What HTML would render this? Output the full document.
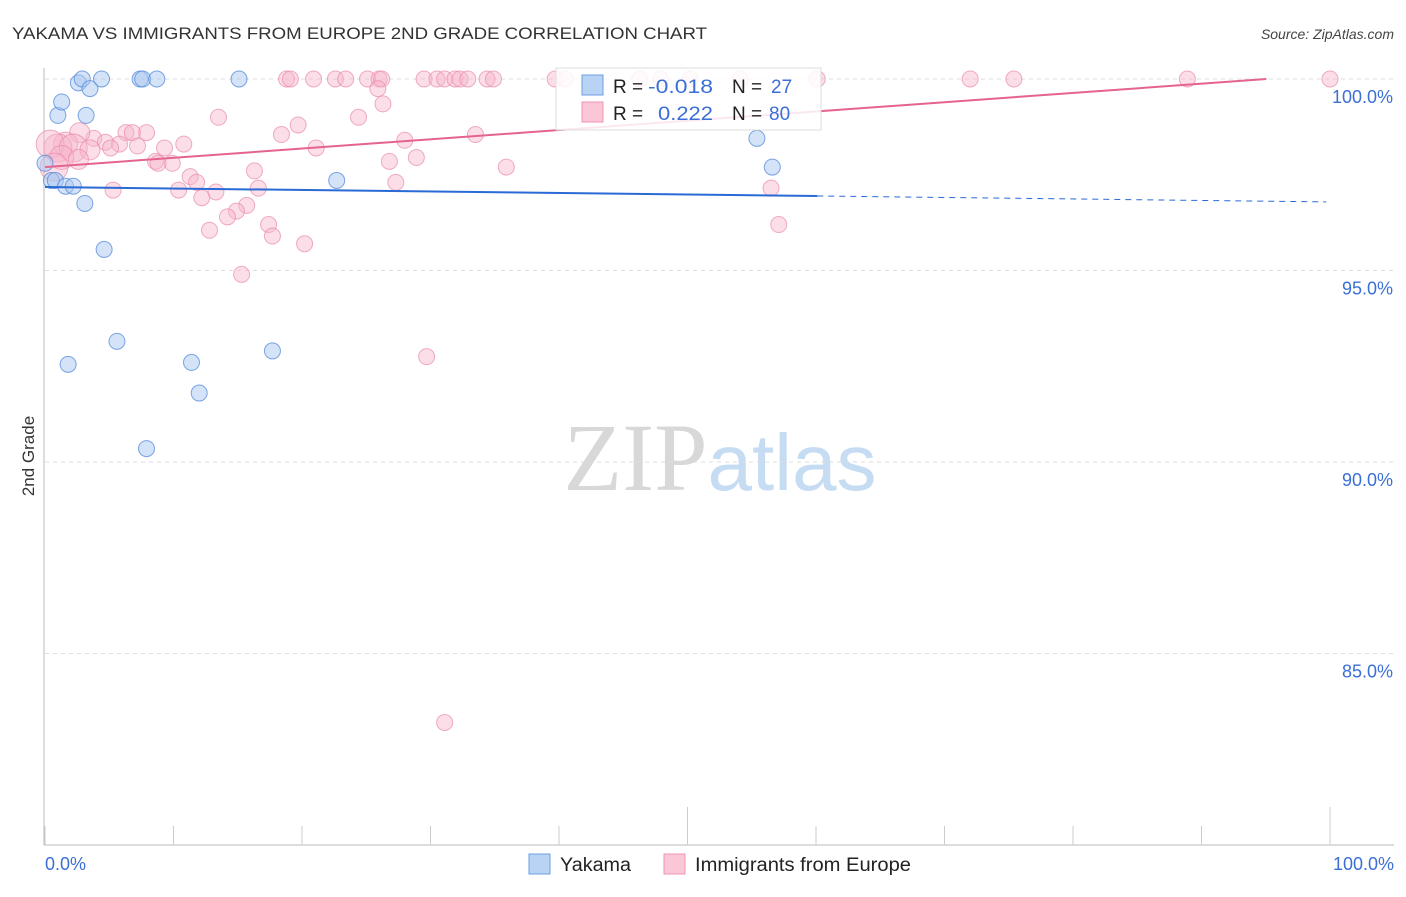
<!DOCTYPE html>
<html><head><meta charset="utf-8"><style>
body{margin:0;background:#fff;font-family:"Liberation Sans",sans-serif;}
svg text{font-family:"Liberation Sans",sans-serif;}
</style></head><body>
<svg id="chart" width="1406" height="892" xmlns="http://www.w3.org/2000/svg">
<text x="12" y="39" font-size="17" fill="#333" textLength="695" lengthAdjust="spacingAndGlyphs">YAKAMA VS IMMIGRANTS FROM EUROPE 2ND GRADE CORRELATION CHART</text>
<text x="1394" y="39" font-size="14" fill="#444" text-anchor="end" font-style="italic">Source: ZipAtlas.com</text>
<text x="720" y="490" font-size="96" text-anchor="middle"><tspan fill="#d8d8d8" font-family="Liberation Serif">ZIP</tspan><tspan fill="#c6dcf3" font-size="80">atlas</tspan></text>
<g id="grid"></g><g id="axes"></g><g id="pts"></g><g id="trend"></g>
<text transform="translate(34,456) rotate(-90)" font-size="17" fill="#333" text-anchor="middle">2nd Grade</text>
<g>
<rect x="556" y="68" width="265" height="62" fill="#fff" fill-opacity="0.85" stroke="#ddd"/>
<rect x="582" y="75" width="21" height="20" fill="#b9d3f5" stroke="#6d9ee0"/>
<rect x="582" y="102" width="21" height="20" fill="#fbc6d6" stroke="#ec94b1"/>
<text x="613" y="93" font-size="19" fill="#222">R = <tspan fill="#3b6fd6" x="648" textLength="65" lengthAdjust="spacingAndGlyphs">-0.018</tspan><tspan x="732">N = </tspan><tspan fill="#3b6fd6" x="771">27</tspan></text>
<text x="613" y="120" font-size="19" fill="#222">R = <tspan fill="#3b6fd6" x="658" textLength="55" lengthAdjust="spacingAndGlyphs">0.222</tspan><tspan x="732">N = </tspan><tspan fill="#3b6fd6" x="769">80</tspan></text>
</g>
<g>
<rect x="529" y="854" width="21" height="20" fill="#b9d3f5" stroke="#6d9ee0"/>
<text x="560" y="871" font-size="19" fill="#222" textLength="71" lengthAdjust="spacingAndGlyphs">Yakama</text>
<rect x="664" y="854" width="21" height="20" fill="#fbc6d6" stroke="#ec94b1"/>
<text x="695" y="871" font-size="19" fill="#222" textLength="216" lengthAdjust="spacingAndGlyphs">Immigrants from Europe</text>
</g>
</svg>
<script>
const yTicks=[100,95,90,85];
const yTickLabels=["100.0%","95.0%","90.0%","85.0%"];
const xTickLabels=["0.0%","100.0%"];
const blueX=[0,0.5,0.8,1.6,2.2,1.0,1.3,2.6,2.9,3.5,3.2,4.4,3.1,4.6,5.6,1.8,7.4,7.6,8.7,7.9,11.4,12,15.1,17.7,22.7,55.4,56.6];
const blueY=[97.8,97.35,97.35,97.2,97.2,99.05,99.4,99.9,100,99.75,99.05,100,96.75,95.55,93.15,92.55,100,100,100,90.35,92.6,91.8,100,92.9,97.35,98.45,97.7];
const pinkX=[18.8,19.1,20.9,22.6,23.4,25.1,26,26.2,29.5,30.5,31.1,31.9,32.3,32.9,34.4,34.9,39.7,40.5,46.3,47.9,50.2,54.1,60.1,72,75.4,88.9,100,
25.9,26.3,24.4,13.5,19.7,18.4,33.5,28,21.1,10.8,7.9,6.3,6.8,3.8,4.7,5.8,2.7,1.6,1,0.4,2.2,3.5,5.1,7.2,9.3,1.3,2.6,0.7,8.6,9.9,8.8,26.8,28.9,16.3,27.3,35.9,5.3,10.4,11.3,11.8,13.3,12.2,16.6,15.7,14.9,14.2,12.8,17.4,17.7,20.2,15.3,29.7,31.1,56.5,57.1,39.4];
const pinkY=[100,100,100,100,100,100,100,100,100,100,100,100,100,100,100,100,100,100,100,100,100,100,100,100,100,100,100,
99.75,99.35,99,99,98.8,98.55,98.55,98.4,98.2,98.3,98.6,98.6,98.6,98.45,98.35,98.3,98.6,98.3,98.2,98.3,98.2,98.15,98.2,98.25,98.2,97.95,97.9,97.7,97.85,97.8,97.8,97.85,97.95,97.6,97.3,97.7,97.1,97.1,97.45,97.3,97.05,96.9,97.15,96.7,96.55,96.4,96.05,96.2,95.9,95.7,94.9,92.75,83.2,97.15,96.2,100];
const pinkSize=[8,8,8,8,8,8,8,8,8,8,8,8,8,8,8,8,8,8,8,8,8,8,8,8,8,8,8,8,8,8,8,8,8,8,8,8,8,8,8,8,8,8,8,10,12,14,14,14,10,8,8,8,12,10,14,8,8,8,8,8,8,8,8,8,8,8,8,8,8,8,8,8,8,8,8,8,8,8,8,8,8,8];
const blueTrend=[97.18,96.79];
const pinkTrend=[97.7,100.12];
const NS="http://www.w3.org/2000/svg";
const X=v=>45+v*12.85, Y=v=>79+(100-v)*38.3;
function mk(tag,attrs,parent){const e=document.createElementNS(NS,tag);for(const k in attrs)e.setAttribute(k,attrs[k]);document.getElementById(parent).appendChild(e);return e;}
yTicks.forEach((t,i)=>{
 const g=mk('line',{x1:45,x2:1394,y1:Y(t),y2:Y(t),stroke:'#ddd','stroke-dasharray':'4,4'},'grid');
 
 
 const l=mk('text',{x:1393,y:Y(t)+24,'font-size':18,fill:'#3b6fd6','text-anchor':'end'},'grid');l.textContent=yTickLabels[i];
 
 
});
let a=mk('line',{x1:44,x2:44,y1:68,y2:845,stroke:'#bbb'},'axes');


a=mk('line',{x1:44,x2:1394,y1:845,y2:845,stroke:'#bbb'},'axes');


for(let i=0;i<=10;i++){const t=mk('line',{x1:X(i*10),x2:X(i*10),y1:(i==5||i==10)?807:826,y2:845,stroke:'#ccc'},'axes');
 
 }
[[0,'start',45],[1,'end',1394]].forEach(([i,an,x])=>{const t=mk('text',{x:x,y:870,'font-size':18,fill:'#3b6fd6','text-anchor':an},'axes');t.textContent=xTickLabels[i];
 
 });
pinkX.forEach((x,i)=>{const c=mk('circle',{cx:X(x),cy:Y(pinkY[i]),r:pinkSize[i],fill:'#f7b6cb','fill-opacity':0.45,stroke:'#e98aab','stroke-opacity':0.7},'pts');
 
 });
blueX.forEach((x,i)=>{const c=mk('circle',{cx:X(x),cy:Y(blueY[i]),r:8,fill:'#a9c8f0','fill-opacity':0.5,stroke:'#5b8fdc','stroke-opacity':0.8},'pts');
 
 });
const by=x=>blueTrend[0]+(blueTrend[1]-blueTrend[0])*x/100;
let t=mk('line',{x1:X(0),y1:Y(by(0)),x2:X(60.1),y2:Y(by(60.1)),stroke:'#2a6ad6','stroke-width':2},'trend');


t=mk('line',{x1:X(60.1),y1:Y(by(60.1)),x2:X(99.7),y2:Y(by(99.7)),stroke:'#2a6ad6','stroke-width':1,'stroke-dasharray':'6,5'},'trend');


const xe=Math.min(100,(100-pinkTrend[0])/(pinkTrend[1]-pinkTrend[0])*100);
t=mk('line',{x1:X(0),y1:Y(pinkTrend[0]),x2:X(xe),y2:Y(pinkTrend[0]+(pinkTrend[1]-pinkTrend[0])*xe/100),stroke:'#e4638f','stroke-width':2},'trend');


</script>
</body></html>
